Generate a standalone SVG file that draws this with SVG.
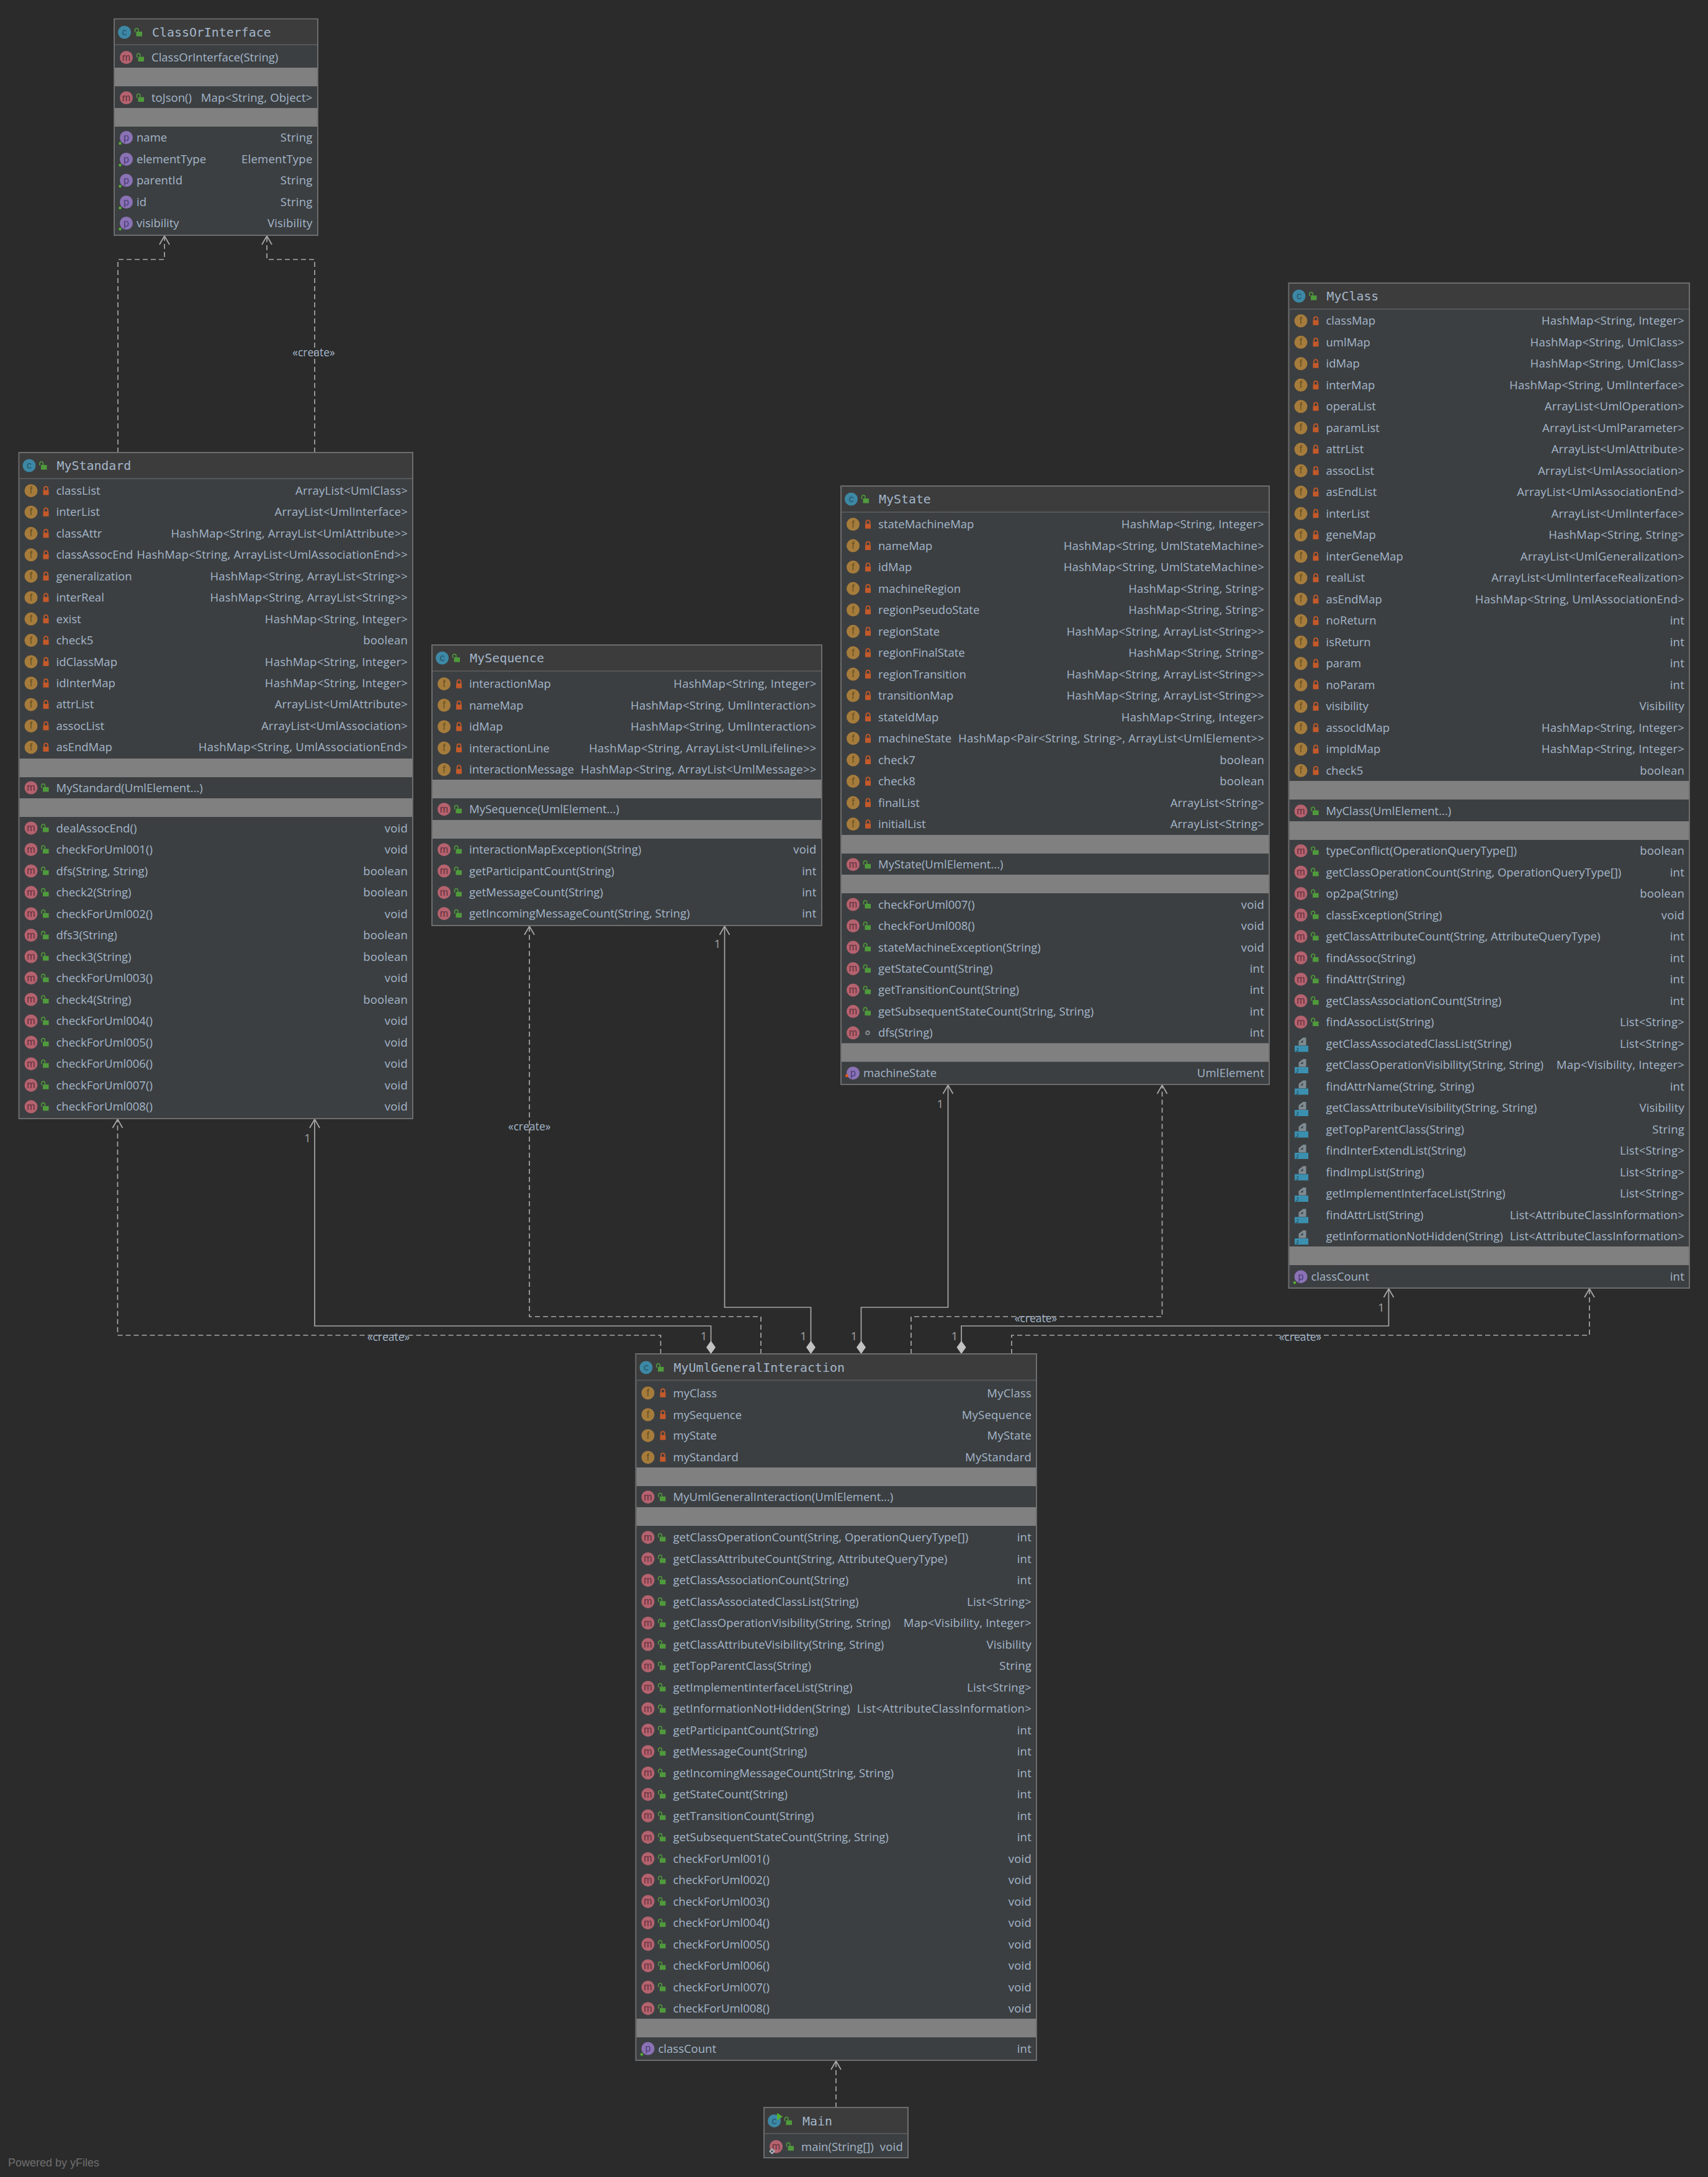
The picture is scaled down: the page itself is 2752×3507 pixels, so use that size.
<svg xmlns="http://www.w3.org/2000/svg" width="2752" height="3507" viewBox="0 0 2752 3507">
<style>
text{font-family:"Open Sans","Noto Sans","Liberation Sans",sans-serif;font-size:18.5px;fill:#a4b6ca}
.t{text-anchor:end;letter-spacing:.22px}
.h{font-family:"DejaVu Sans Mono","Liberation Mono",monospace;font-size:19.9px}
.i{font-family:"Liberation Sans",sans-serif;text-anchor:middle;font-size:16px}
.l{font-size:17.5px;text-anchor:middle}
.o{font-size:19px;fill:#a0a0a0;text-anchor:middle}
.b{fill:#3c3f41;stroke:#6d6d6d;stroke-width:2}
.hd{fill:#3c3c3c}
.hl{stroke:#555759;stroke-width:2}
.g{fill:#808080}
.s{fill:none;stroke:#a8a8a8;stroke-width:1.700}
.d{stroke-dasharray:8 5}
.y{font-size:18px;fill:#6f6f6f;font-family:"Liberation Sans",sans-serif}
</style>
<defs>
<marker id="arr" markerUnits="userSpaceOnUse" markerWidth="18" markerHeight="20" refX="15" refY="10" orient="auto"><path d="M1 2L15 10L1 18" fill="none" stroke="#a8a8a8" stroke-width="1.800"/></marker>
<marker id="dia" markerUnits="userSpaceOnUse" markerWidth="24" markerHeight="18" refX="0" refY="9" orient="auto"><path d="M0 9L10.500 1.500L21 9L10.500 16.500Z" fill="#c2c2c2"/></marker>
<g id="pub"><path d="M36.500 0V-3.500a2.700 2.700 0 0 1 5.400 0V-1" fill="none" stroke="#4f9a3c" stroke-width="1.600"/><rect x="38.500" y="-1" width="9.500" height="7.500" fill="#4f9a3c"/></g>
<g id="pri"><path d="M40.500 -1V-3.500a3 3 0 0 1 6 0V-1" fill="none" stroke="#c4592a" stroke-width="1.800"/><rect x="39" y="-1" width="9" height="8" fill="#c4592a"/></g>
<g id="cc"><circle cx="16.500" cy="0" r="10.500" fill="#3d88a5"/><text class="i" x="16.500" y="5" style="fill:#24566b">c</text><use href="#pub" x="-3"/></g>
<g id="mi"><circle cx="19.500" cy="0" r="10.500" fill="#b5626f"/><text class="i" x="19.500" y="5" style="fill:#60303a">m</text></g>
<g id="fi"><circle cx="19.500" cy="0" r="10.500" fill="#a67c3c"/><text class="i" x="19.500" y="5" style="fill:#67501f">f</text></g>
<g id="pi"><circle cx="19.500" cy="0" r="10.500" fill="#8a72b5"/><text class="i" x="19.500" y="5" style="fill:#4b3c78">p</text></g>
<g id="fr"><use href="#fi"/><use href="#pri"/></g>
<g id="mp"><use href="#mi"/><use href="#pub"/></g>
<g id="pg"><use href="#pi"/><circle cx="9.500" cy="9.500" r="2.200" fill="#55b030"/></g>
<g id="mj"><path d="M16 3V-4L23 -9.500H28V3Z" fill="#7f8b93"/><path d="M18.500 -1.500L23 -5.500V-1.500Z" fill="#3c3f41"/><rect x="9.500" y="3.500" width="22" height="10" fill="#3b90b0"/><text class="i" x="13.500" y="12.500" style="font-size:9px;fill:#1d3f4e">J</text></g>
</defs>
<rect width="2752" height="3507" fill="#2b2b2b"/>
<g id="connectors">
<path class="s d" marker-end="url(#arr)" d="M190 729V418H265V380"/>
<path class="s d" marker-end="url(#arr)" d="M507 729V418H430V380"/>
<text class="l" x="505.500" y="574">«create»</text>
<path class="s d" marker-end="url(#arr)" d="M1064.500 2181V2151H189.500V1803"/>
<text class="l" x="626" y="2160">«create»</text>
<path class="s" marker-start="url(#dia)" marker-end="url(#arr)" d="M1145.500 2181V2136H507V1803"/>
<text class="o" x="495.500" y="1840">1</text>
<text class="o" x="1134" y="2159">1</text>
<path class="s d" marker-end="url(#arr)" d="M1226 2181V2121H853V1492"/>
<text class="l" x="853" y="1821">«create»</text>
<path class="s" marker-start="url(#dia)" marker-end="url(#arr)" d="M1306.500 2181V2106H1167.500V1492"/>
<text class="o" x="1156" y="1527">1</text>
<text class="o" x="1294.500" y="2159">1</text>
<path class="s" marker-start="url(#dia)" marker-end="url(#arr)" d="M1387.500 2181V2106H1527.500V1748"/>
<text class="o" x="1515" y="1785">1</text>
<text class="o" x="1376" y="2159">1</text>
<path class="s d" marker-end="url(#arr)" d="M1468 2181V2121H1872.500V1748"/>
<text class="l" x="1669" y="2130">«create»</text>
<path class="s" marker-start="url(#dia)" marker-end="url(#arr)" d="M1549 2181V2136H2237.500V2076"/>
<text class="o" x="2225.500" y="2113">1</text>
<text class="o" x="1538" y="2159">1</text>
<path class="s d" marker-end="url(#arr)" d="M1630 2181V2151H2561V2076"/>
<text class="l" x="2095" y="2160">«create»</text>
<path class="s d" marker-end="url(#arr)" d="M1347 3395V3320"/>
</g>
<g id="ClassOrInterface" transform="translate(184,0)">
<rect class="b" x="0" y="30.500" width="328" height="348.500"/><rect class="hd" x="1" y="31.500" width="326" height="40"/><path class="hl" d="M1 72H327"/>
<rect class="g" x="1" y="109" width="326" height="30"/><rect class="g" x="1" y="174" width="326" height="30"/>
<g transform="translate(0,52)"><use href="#cc"/><text class="h" x="61" y="7">ClassOrInterface</text></g>
<g transform="translate(0,92.500)"><use href="#mp"/><text class="n" x="60" y="6.500">ClassOrInterface(String)</text></g>
<g transform="translate(0,157.500)"><use href="#mp"/><text class="n" x="60" y="6.500">toJson()</text><text class="t" x="319.500" y="6.500">Map&lt;String, Object&gt;</text></g>
<g transform="translate(0,221.500)"><use href="#pg"/><text class="n" x="36" y="6.500">name</text><text class="t" x="319.500" y="6.500">String</text></g>
<g transform="translate(0,256.500)"><use href="#pg"/><text class="n" x="36" y="6.500">elementType</text><text class="t" x="319.500" y="6.500">ElementType</text></g>
<g transform="translate(0,290.500)"><use href="#pg"/><text class="n" x="36" y="6.500">parentId</text><text class="t" x="319.500" y="6.500">String</text></g>
<g transform="translate(0,325.500)"><use href="#pg"/><text class="n" x="36" y="6.500">id</text><text class="t" x="319.500" y="6.500">String</text></g>
<g transform="translate(0,359.500)"><use href="#pg"/><text class="n" x="36" y="6.500">visibility</text><text class="t" x="319.500" y="6.500">Visibility</text></g>
</g>
<g id="MyStandard" transform="translate(30.500,0)">
<rect class="b" x="0" y="729" width="634.500" height="1073"/><rect class="hd" x="1" y="730" width="632.500" height="40"/><path class="hl" d="M1 771H633.500"/>
<rect class="g" x="1" y="1222" width="632.500" height="30"/><rect class="g" x="1" y="1286" width="632.500" height="30"/>
<g transform="translate(0,750)"><use href="#cc"/><text class="h" x="61" y="7">MyStandard</text></g>
<g transform="translate(0,790.400)"><use href="#fr"/><text class="n" x="60" y="6.500">classList</text><text class="t" x="626.500" y="6.500">ArrayList&lt;UmlClass&gt;</text></g>
<g transform="translate(0,824.900)"><use href="#fr"/><text class="n" x="60" y="6.500">interList</text><text class="t" x="626.500" y="6.500">ArrayList&lt;UmlInterface&gt;</text></g>
<g transform="translate(0,859.300)"><use href="#fr"/><text class="n" x="60" y="6.500">classAttr</text><text class="t" x="626.500" y="6.500">HashMap&lt;String, ArrayList&lt;UmlAttribute&gt;&gt;</text></g>
<g transform="translate(0,893.800)"><use href="#fr"/><text class="n" x="60" y="6.500">classAssocEnd</text><text class="t" x="626.500" y="6.500">HashMap&lt;String, ArrayList&lt;UmlAssociationEnd&gt;&gt;</text></g>
<g transform="translate(0,928.200)"><use href="#fr"/><text class="n" x="60" y="6.500">generalization</text><text class="t" x="626.500" y="6.500">HashMap&lt;String, ArrayList&lt;String&gt;&gt;</text></g>
<g transform="translate(0,962.700)"><use href="#fr"/><text class="n" x="60" y="6.500">interReal</text><text class="t" x="626.500" y="6.500">HashMap&lt;String, ArrayList&lt;String&gt;&gt;</text></g>
<g transform="translate(0,997.100)"><use href="#fr"/><text class="n" x="60" y="6.500">exist</text><text class="t" x="626.500" y="6.500">HashMap&lt;String, Integer&gt;</text></g>
<g transform="translate(0,1031.600)"><use href="#fr"/><text class="n" x="60" y="6.500">check5</text><text class="t" x="626.500" y="6.500">boolean</text></g>
<g transform="translate(0,1066)"><use href="#fr"/><text class="n" x="60" y="6.500">idClassMap</text><text class="t" x="626.500" y="6.500">HashMap&lt;String, Integer&gt;</text></g>
<g transform="translate(0,1100.500)"><use href="#fr"/><text class="n" x="60" y="6.500">idInterMap</text><text class="t" x="626.500" y="6.500">HashMap&lt;String, Integer&gt;</text></g>
<g transform="translate(0,1134.900)"><use href="#fr"/><text class="n" x="60" y="6.500">attrList</text><text class="t" x="626.500" y="6.500">ArrayList&lt;UmlAttribute&gt;</text></g>
<g transform="translate(0,1169.400)"><use href="#fr"/><text class="n" x="60" y="6.500">assocList</text><text class="t" x="626.500" y="6.500">ArrayList&lt;UmlAssociation&gt;</text></g>
<g transform="translate(0,1203.800)"><use href="#fr"/><text class="n" x="60" y="6.500">asEndMap</text><text class="t" x="626.500" y="6.500">HashMap&lt;String, UmlAssociationEnd&gt;</text></g>
<g transform="translate(0,1269)"><use href="#mp"/><text class="n" x="60" y="6.500">MyStandard(UmlElement...)</text></g>
<g transform="translate(0,1334)"><use href="#mp"/><text class="n" x="60" y="6.500">dealAssocEnd()</text><text class="t" x="626.500" y="6.500">void</text></g>
<g transform="translate(0,1368.500)"><use href="#mp"/><text class="n" x="60" y="6.500">checkForUml001()</text><text class="t" x="626.500" y="6.500">void</text></g>
<g transform="translate(0,1403)"><use href="#mp"/><text class="n" x="60" y="6.500">dfs(String, String)</text><text class="t" x="626.500" y="6.500">boolean</text></g>
<g transform="translate(0,1437.600)"><use href="#mp"/><text class="n" x="60" y="6.500">check2(String)</text><text class="t" x="626.500" y="6.500">boolean</text></g>
<g transform="translate(0,1472)"><use href="#mp"/><text class="n" x="60" y="6.500">checkForUml002()</text><text class="t" x="626.500" y="6.500">void</text></g>
<g transform="translate(0,1506.600)"><use href="#mp"/><text class="n" x="60" y="6.500">dfs3(String)</text><text class="t" x="626.500" y="6.500">boolean</text></g>
<g transform="translate(0,1541)"><use href="#mp"/><text class="n" x="60" y="6.500">check3(String)</text><text class="t" x="626.500" y="6.500">boolean</text></g>
<g transform="translate(0,1575.600)"><use href="#mp"/><text class="n" x="60" y="6.500">checkForUml003()</text><text class="t" x="626.500" y="6.500">void</text></g>
<g transform="translate(0,1610)"><use href="#mp"/><text class="n" x="60" y="6.500">check4(String)</text><text class="t" x="626.500" y="6.500">boolean</text></g>
<g transform="translate(0,1644.700)"><use href="#mp"/><text class="n" x="60" y="6.500">checkForUml004()</text><text class="t" x="626.500" y="6.500">void</text></g>
<g transform="translate(0,1679)"><use href="#mp"/><text class="n" x="60" y="6.500">checkForUml005()</text><text class="t" x="626.500" y="6.500">void</text></g>
<g transform="translate(0,1713.700)"><use href="#mp"/><text class="n" x="60" y="6.500">checkForUml006()</text><text class="t" x="626.500" y="6.500">void</text></g>
<g transform="translate(0,1748.200)"><use href="#mp"/><text class="n" x="60" y="6.500">checkForUml007()</text><text class="t" x="626.500" y="6.500">void</text></g>
<g transform="translate(0,1782.800)"><use href="#mp"/><text class="n" x="60" y="6.500">checkForUml008()</text><text class="t" x="626.500" y="6.500">void</text></g>
</g>
<g id="MySequence" transform="translate(696,0)">
<rect class="b" x="0" y="1039" width="628" height="452"/><rect class="hd" x="1" y="1040" width="626" height="40"/><path class="hl" d="M1 1081H627"/>
<rect class="g" x="1" y="1256" width="626" height="30"/><rect class="g" x="1" y="1321" width="626" height="30"/>
<g transform="translate(0,1060)"><use href="#cc"/><text class="h" x="61" y="7">MySequence</text></g>
<g transform="translate(0,1101.700)"><use href="#fr"/><text class="n" x="60" y="6.500">interactionMap</text><text class="t" x="619.500" y="6.500">HashMap&lt;String, Integer&gt;</text></g>
<g transform="translate(0,1136)"><use href="#fr"/><text class="n" x="60" y="6.500">nameMap</text><text class="t" x="619.500" y="6.500">HashMap&lt;String, UmlInteraction&gt;</text></g>
<g transform="translate(0,1170.700)"><use href="#fr"/><text class="n" x="60" y="6.500">idMap</text><text class="t" x="619.500" y="6.500">HashMap&lt;String, UmlInteraction&gt;</text></g>
<g transform="translate(0,1205)"><use href="#fr"/><text class="n" x="60" y="6.500">interactionLine</text><text class="t" x="619.500" y="6.500">HashMap&lt;String, ArrayList&lt;UmlLifeline&gt;&gt;</text></g>
<g transform="translate(0,1239.700)"><use href="#fr"/><text class="n" x="60" y="6.500">interactionMessage</text><text class="t" x="619.500" y="6.500">HashMap&lt;String, ArrayList&lt;UmlMessage&gt;&gt;</text></g>
<g transform="translate(0,1303.700)"><use href="#mp"/><text class="n" x="60" y="6.500">MySequence(UmlElement...)</text></g>
<g transform="translate(0,1368.700)"><use href="#mp"/><text class="n" x="60" y="6.500">interactionMapException(String)</text><text class="t" x="619.500" y="6.500">void</text></g>
<g transform="translate(0,1403)"><use href="#mp"/><text class="n" x="60" y="6.500">getParticipantCount(String)</text><text class="t" x="619.500" y="6.500">int</text></g>
<g transform="translate(0,1437.700)"><use href="#mp"/><text class="n" x="60" y="6.500">getMessageCount(String)</text><text class="t" x="619.500" y="6.500">int</text></g>
<g transform="translate(0,1471.700)"><use href="#mp"/><text class="n" x="60" y="6.500">getIncomingMessageCount(String, String)</text><text class="t" x="619.500" y="6.500">int</text></g>
</g>
<g id="MyState" transform="translate(1355,0)">
<rect class="b" x="0" y="783" width="690" height="964"/><rect class="hd" x="1" y="784" width="688" height="40"/><path class="hl" d="M1 825H689"/>
<rect class="g" x="1" y="1345" width="688" height="30"/><rect class="g" x="1" y="1409" width="688" height="30"/><rect class="g" x="1" y="1680.500" width="688" height="30"/>
<g transform="translate(0,804)"><use href="#cc"/><text class="h" x="61" y="7">MyState</text></g>
<g transform="translate(0,844.600)"><use href="#fr"/><text class="n" x="60" y="6.500">stateMachineMap</text><text class="t" x="682" y="6.500">HashMap&lt;String, Integer&gt;</text></g>
<g transform="translate(0,879.100)"><use href="#fr"/><text class="n" x="60" y="6.500">nameMap</text><text class="t" x="682" y="6.500">HashMap&lt;String, UmlStateMachine&gt;</text></g>
<g transform="translate(0,913.600)"><use href="#fr"/><text class="n" x="60" y="6.500">idMap</text><text class="t" x="682" y="6.500">HashMap&lt;String, UmlStateMachine&gt;</text></g>
<g transform="translate(0,948.100)"><use href="#fr"/><text class="n" x="60" y="6.500">machineRegion</text><text class="t" x="682" y="6.500">HashMap&lt;String, String&gt;</text></g>
<g transform="translate(0,982.600)"><use href="#fr"/><text class="n" x="60" y="6.500">regionPseudoState</text><text class="t" x="682" y="6.500">HashMap&lt;String, String&gt;</text></g>
<g transform="translate(0,1017.100)"><use href="#fr"/><text class="n" x="60" y="6.500">regionState</text><text class="t" x="682" y="6.500">HashMap&lt;String, ArrayList&lt;String&gt;&gt;</text></g>
<g transform="translate(0,1051.600)"><use href="#fr"/><text class="n" x="60" y="6.500">regionFinalState</text><text class="t" x="682" y="6.500">HashMap&lt;String, String&gt;</text></g>
<g transform="translate(0,1086.100)"><use href="#fr"/><text class="n" x="60" y="6.500">regionTransition</text><text class="t" x="682" y="6.500">HashMap&lt;String, ArrayList&lt;String&gt;&gt;</text></g>
<g transform="translate(0,1120.600)"><use href="#fr"/><text class="n" x="60" y="6.500">transitionMap</text><text class="t" x="682" y="6.500">HashMap&lt;String, ArrayList&lt;String&gt;&gt;</text></g>
<g transform="translate(0,1155.100)"><use href="#fr"/><text class="n" x="60" y="6.500">stateIdMap</text><text class="t" x="682" y="6.500">HashMap&lt;String, Integer&gt;</text></g>
<g transform="translate(0,1189.600)"><use href="#fr"/><text class="n" x="60" y="6.500">machineState</text><text class="t" x="682" y="6.500">HashMap&lt;Pair&lt;String, String&gt;, ArrayList&lt;UmlElement&gt;&gt;</text></g>
<g transform="translate(0,1224.100)"><use href="#fr"/><text class="n" x="60" y="6.500">check7</text><text class="t" x="682" y="6.500">boolean</text></g>
<g transform="translate(0,1258.600)"><use href="#fr"/><text class="n" x="60" y="6.500">check8</text><text class="t" x="682" y="6.500">boolean</text></g>
<g transform="translate(0,1293.100)"><use href="#fr"/><text class="n" x="60" y="6.500">finalList</text><text class="t" x="682" y="6.500">ArrayList&lt;String&gt;</text></g>
<g transform="translate(0,1327.600)"><use href="#fr"/><text class="n" x="60" y="6.500">initialList</text><text class="t" x="682" y="6.500">ArrayList&lt;String&gt;</text></g>
<g transform="translate(0,1392.700)"><use href="#mp"/><text class="n" x="60" y="6.500">MyState(UmlElement...)</text></g>
<g transform="translate(0,1457)"><use href="#mp"/><text class="n" x="60" y="6.500">checkForUml007()</text><text class="t" x="682" y="6.500">void</text></g>
<g transform="translate(0,1491.500)"><use href="#mp"/><text class="n" x="60" y="6.500">checkForUml008()</text><text class="t" x="682" y="6.500">void</text></g>
<g transform="translate(0,1526)"><use href="#mp"/><text class="n" x="60" y="6.500">stateMachineException(String)</text><text class="t" x="682" y="6.500">void</text></g>
<g transform="translate(0,1560.400)"><use href="#mp"/><text class="n" x="60" y="6.500">getStateCount(String)</text><text class="t" x="682" y="6.500">int</text></g>
<g transform="translate(0,1594.900)"><use href="#mp"/><text class="n" x="60" y="6.500">getTransitionCount(String)</text><text class="t" x="682" y="6.500">int</text></g>
<g transform="translate(0,1629.300)"><use href="#mp"/><text class="n" x="60" y="6.500">getSubsequentStateCount(String, String)</text><text class="t" x="682" y="6.500">int</text></g>
<g transform="translate(0,1663.800)"><use href="#mi"/><circle cx="43" cy="0" r="2.800" fill="none" stroke="#8a9096" stroke-width="1.800"/><text class="n" x="60" y="6.500">dfs(String)</text><text class="t" x="682" y="6.500">int</text></g>
<g transform="translate(0,1728.700)"><use href="#pi"/><circle cx="9.500" cy="4" r="2.500" fill="#e0591c"/><text class="n" x="36" y="6.500">machineState</text><text class="t" x="682" y="6.500">UmlElement</text></g>
</g>
<g id="MyClass" transform="translate(2076.500,0)">
<rect class="b" x="0" y="456" width="645.500" height="1619"/><rect class="hd" x="1" y="457" width="643.500" height="40"/><path class="hl" d="M1 498H644.500"/>
<rect class="g" x="1" y="1258" width="643.500" height="30"/><rect class="g" x="1" y="1323" width="643.500" height="30"/><rect class="g" x="1" y="2008" width="643.500" height="30"/>
<g transform="translate(0,477)"><use href="#cc"/><text class="h" x="61" y="7">MyClass</text></g>
<g transform="translate(0,516.800)"><use href="#fr"/><text class="n" x="60" y="6.500">classMap</text><text class="t" x="637.500" y="6.500">HashMap&lt;String, Integer&gt;</text></g>
<g transform="translate(0,551.300)"><use href="#fr"/><text class="n" x="60" y="6.500">umlMap</text><text class="t" x="637.500" y="6.500">HashMap&lt;String, UmlClass&gt;</text></g>
<g transform="translate(0,585.800)"><use href="#fr"/><text class="n" x="60" y="6.500">idMap</text><text class="t" x="637.500" y="6.500">HashMap&lt;String, UmlClass&gt;</text></g>
<g transform="translate(0,620.300)"><use href="#fr"/><text class="n" x="60" y="6.500">interMap</text><text class="t" x="637.500" y="6.500">HashMap&lt;String, UmlInterface&gt;</text></g>
<g transform="translate(0,654.800)"><use href="#fr"/><text class="n" x="60" y="6.500">operaList</text><text class="t" x="637.500" y="6.500">ArrayList&lt;UmlOperation&gt;</text></g>
<g transform="translate(0,689.300)"><use href="#fr"/><text class="n" x="60" y="6.500">paramList</text><text class="t" x="637.500" y="6.500">ArrayList&lt;UmlParameter&gt;</text></g>
<g transform="translate(0,723.800)"><use href="#fr"/><text class="n" x="60" y="6.500">attrList</text><text class="t" x="637.500" y="6.500">ArrayList&lt;UmlAttribute&gt;</text></g>
<g transform="translate(0,758.300)"><use href="#fr"/><text class="n" x="60" y="6.500">assocList</text><text class="t" x="637.500" y="6.500">ArrayList&lt;UmlAssociation&gt;</text></g>
<g transform="translate(0,792.800)"><use href="#fr"/><text class="n" x="60" y="6.500">asEndList</text><text class="t" x="637.500" y="6.500">ArrayList&lt;UmlAssociationEnd&gt;</text></g>
<g transform="translate(0,827.300)"><use href="#fr"/><text class="n" x="60" y="6.500">interList</text><text class="t" x="637.500" y="6.500">ArrayList&lt;UmlInterface&gt;</text></g>
<g transform="translate(0,861.800)"><use href="#fr"/><text class="n" x="60" y="6.500">geneMap</text><text class="t" x="637.500" y="6.500">HashMap&lt;String, String&gt;</text></g>
<g transform="translate(0,896.300)"><use href="#fr"/><text class="n" x="60" y="6.500">interGeneMap</text><text class="t" x="637.500" y="6.500">ArrayList&lt;UmlGeneralization&gt;</text></g>
<g transform="translate(0,930.800)"><use href="#fr"/><text class="n" x="60" y="6.500">realList</text><text class="t" x="637.500" y="6.500">ArrayList&lt;UmlInterfaceRealization&gt;</text></g>
<g transform="translate(0,965.300)"><use href="#fr"/><text class="n" x="60" y="6.500">asEndMap</text><text class="t" x="637.500" y="6.500">HashMap&lt;String, UmlAssociationEnd&gt;</text></g>
<g transform="translate(0,999.800)"><use href="#fr"/><text class="n" x="60" y="6.500">noReturn</text><text class="t" x="637.500" y="6.500">int</text></g>
<g transform="translate(0,1034.300)"><use href="#fr"/><text class="n" x="60" y="6.500">isReturn</text><text class="t" x="637.500" y="6.500">int</text></g>
<g transform="translate(0,1068.800)"><use href="#fr"/><text class="n" x="60" y="6.500">param</text><text class="t" x="637.500" y="6.500">int</text></g>
<g transform="translate(0,1103.300)"><use href="#fr"/><text class="n" x="60" y="6.500">noParam</text><text class="t" x="637.500" y="6.500">int</text></g>
<g transform="translate(0,1137.800)"><use href="#fr"/><text class="n" x="60" y="6.500">visibility</text><text class="t" x="637.500" y="6.500">Visibility</text></g>
<g transform="translate(0,1172.300)"><use href="#fr"/><text class="n" x="60" y="6.500">assocIdMap</text><text class="t" x="637.500" y="6.500">HashMap&lt;String, Integer&gt;</text></g>
<g transform="translate(0,1206.800)"><use href="#fr"/><text class="n" x="60" y="6.500">impIdMap</text><text class="t" x="637.500" y="6.500">HashMap&lt;String, Integer&gt;</text></g>
<g transform="translate(0,1241.300)"><use href="#fr"/><text class="n" x="60" y="6.500">check5</text><text class="t" x="637.500" y="6.500">boolean</text></g>
<g transform="translate(0,1306.500)"><use href="#mp"/><text class="n" x="60" y="6.500">MyClass(UmlElement...)</text></g>
<g transform="translate(0,1370.500)"><use href="#mp"/><text class="n" x="60" y="6.500">typeConflict(OperationQueryType[])</text><text class="t" x="637.500" y="6.500">boolean</text></g>
<g transform="translate(0,1405)"><use href="#mp"/><text class="n" x="60" y="6.500">getClassOperationCount(String, OperationQueryType[])</text><text class="t" x="637.500" y="6.500">int</text></g>
<g transform="translate(0,1439.500)"><use href="#mp"/><text class="n" x="60" y="6.500">op2pa(String)</text><text class="t" x="637.500" y="6.500">boolean</text></g>
<g transform="translate(0,1474)"><use href="#mp"/><text class="n" x="60" y="6.500">classException(String)</text><text class="t" x="637.500" y="6.500">void</text></g>
<g transform="translate(0,1508.500)"><use href="#mp"/><text class="n" x="60" y="6.500">getClassAttributeCount(String, AttributeQueryType)</text><text class="t" x="637.500" y="6.500">int</text></g>
<g transform="translate(0,1543)"><use href="#mp"/><text class="n" x="60" y="6.500">findAssoc(String)</text><text class="t" x="637.500" y="6.500">int</text></g>
<g transform="translate(0,1577.500)"><use href="#mp"/><text class="n" x="60" y="6.500">findAttr(String)</text><text class="t" x="637.500" y="6.500">int</text></g>
<g transform="translate(0,1612)"><use href="#mp"/><text class="n" x="60" y="6.500">getClassAssociationCount(String)</text><text class="t" x="637.500" y="6.500">int</text></g>
<g transform="translate(0,1646.500)"><use href="#mp"/><text class="n" x="60" y="6.500">findAssocList(String)</text><text class="t" x="637.500" y="6.500">List&lt;String&gt;</text></g>
<g transform="translate(0,1681)"><use href="#mj"/><text class="n" x="60" y="6.500">getClassAssociatedClassList(String)</text><text class="t" x="637.500" y="6.500">List&lt;String&gt;</text></g>
<g transform="translate(0,1715.500)"><use href="#mj"/><text class="n" x="60" y="6.500">getClassOperationVisibility(String, String)</text><text class="t" x="637.500" y="6.500">Map&lt;Visibility, Integer&gt;</text></g>
<g transform="translate(0,1750)"><use href="#mj"/><text class="n" x="60" y="6.500">findAttrName(String, String)</text><text class="t" x="637.500" y="6.500">int</text></g>
<g transform="translate(0,1784.500)"><use href="#mj"/><text class="n" x="60" y="6.500">getClassAttributeVisibility(String, String)</text><text class="t" x="637.500" y="6.500">Visibility</text></g>
<g transform="translate(0,1819)"><use href="#mj"/><text class="n" x="60" y="6.500">getTopParentClass(String)</text><text class="t" x="637.500" y="6.500">String</text></g>
<g transform="translate(0,1853.500)"><use href="#mj"/><text class="n" x="60" y="6.500">findInterExtendList(String)</text><text class="t" x="637.500" y="6.500">List&lt;String&gt;</text></g>
<g transform="translate(0,1888)"><use href="#mj"/><text class="n" x="60" y="6.500">findImpList(String)</text><text class="t" x="637.500" y="6.500">List&lt;String&gt;</text></g>
<g transform="translate(0,1922.500)"><use href="#mj"/><text class="n" x="60" y="6.500">getImplementInterfaceList(String)</text><text class="t" x="637.500" y="6.500">List&lt;String&gt;</text></g>
<g transform="translate(0,1957)"><use href="#mj"/><text class="n" x="60" y="6.500">findAttrList(String)</text><text class="t" x="637.500" y="6.500">List&lt;AttributeClassInformation&gt;</text></g>
<g transform="translate(0,1991.500)"><use href="#mj"/><text class="n" x="60" y="6.500">getInformationNotHidden(String)</text><text class="t" x="637.500" y="6.500">List&lt;AttributeClassInformation&gt;</text></g>
<g transform="translate(0,2056.700)"><use href="#pg"/><text class="n" x="36" y="6.500">classCount</text><text class="t" x="637.500" y="6.500">int</text></g>
</g>
<g id="MyUmlGeneralInteraction" transform="translate(1024.500,0)">
<rect class="b" x="0" y="2181" width="645.500" height="1138"/><rect class="hd" x="1" y="2182" width="643.500" height="41"/><path class="hl" d="M1 2223.500H644.500"/>
<rect class="g" x="1" y="2364" width="643.500" height="30"/><rect class="g" x="1" y="2428" width="643.500" height="30"/><rect class="g" x="1" y="3252" width="643.500" height="30"/>
<g transform="translate(0,2203)"><use href="#cc"/><text class="h" x="61" y="7">MyUmlGeneralInteraction</text></g>
<g transform="translate(0,2244)"><use href="#fr"/><text class="n" x="60" y="6.500">myClass</text><text class="t" x="637.500" y="6.500">MyClass</text></g>
<g transform="translate(0,2279)"><use href="#fr"/><text class="n" x="60" y="6.500">mySequence</text><text class="t" x="637.500" y="6.500">MySequence</text></g>
<g transform="translate(0,2312.700)"><use href="#fr"/><text class="n" x="60" y="6.500">myState</text><text class="t" x="637.500" y="6.500">MyState</text></g>
<g transform="translate(0,2347.700)"><use href="#fr"/><text class="n" x="60" y="6.500">myStandard</text><text class="t" x="637.500" y="6.500">MyStandard</text></g>
<g transform="translate(0,2411.700)"><use href="#mp"/><text class="n" x="60" y="6.500">MyUmlGeneralInteraction(UmlElement...)</text></g>
<g transform="translate(0,2476.700)"><use href="#mp"/><text class="n" x="60" y="6.500">getClassOperationCount(String, OperationQueryType[])</text><text class="t" x="637.500" y="6.500">int</text></g>
<g transform="translate(0,2511.200)"><use href="#mp"/><text class="n" x="60" y="6.500">getClassAttributeCount(String, AttributeQueryType)</text><text class="t" x="637.500" y="6.500">int</text></g>
<g transform="translate(0,2545.700)"><use href="#mp"/><text class="n" x="60" y="6.500">getClassAssociationCount(String)</text><text class="t" x="637.500" y="6.500">int</text></g>
<g transform="translate(0,2580.200)"><use href="#mp"/><text class="n" x="60" y="6.500">getClassAssociatedClassList(String)</text><text class="t" x="637.500" y="6.500">List&lt;String&gt;</text></g>
<g transform="translate(0,2614.700)"><use href="#mp"/><text class="n" x="60" y="6.500">getClassOperationVisibility(String, String)</text><text class="t" x="637.500" y="6.500">Map&lt;Visibility, Integer&gt;</text></g>
<g transform="translate(0,2649.200)"><use href="#mp"/><text class="n" x="60" y="6.500">getClassAttributeVisibility(String, String)</text><text class="t" x="637.500" y="6.500">Visibility</text></g>
<g transform="translate(0,2683.700)"><use href="#mp"/><text class="n" x="60" y="6.500">getTopParentClass(String)</text><text class="t" x="637.500" y="6.500">String</text></g>
<g transform="translate(0,2718.200)"><use href="#mp"/><text class="n" x="60" y="6.500">getImplementInterfaceList(String)</text><text class="t" x="637.500" y="6.500">List&lt;String&gt;</text></g>
<g transform="translate(0,2752.700)"><use href="#mp"/><text class="n" x="60" y="6.500">getInformationNotHidden(String)</text><text class="t" x="637.500" y="6.500">List&lt;AttributeClassInformation&gt;</text></g>
<g transform="translate(0,2787.200)"><use href="#mp"/><text class="n" x="60" y="6.500">getParticipantCount(String)</text><text class="t" x="637.500" y="6.500">int</text></g>
<g transform="translate(0,2821.700)"><use href="#mp"/><text class="n" x="60" y="6.500">getMessageCount(String)</text><text class="t" x="637.500" y="6.500">int</text></g>
<g transform="translate(0,2856.200)"><use href="#mp"/><text class="n" x="60" y="6.500">getIncomingMessageCount(String, String)</text><text class="t" x="637.500" y="6.500">int</text></g>
<g transform="translate(0,2890.700)"><use href="#mp"/><text class="n" x="60" y="6.500">getStateCount(String)</text><text class="t" x="637.500" y="6.500">int</text></g>
<g transform="translate(0,2925.200)"><use href="#mp"/><text class="n" x="60" y="6.500">getTransitionCount(String)</text><text class="t" x="637.500" y="6.500">int</text></g>
<g transform="translate(0,2959.700)"><use href="#mp"/><text class="n" x="60" y="6.500">getSubsequentStateCount(String, String)</text><text class="t" x="637.500" y="6.500">int</text></g>
<g transform="translate(0,2994.200)"><use href="#mp"/><text class="n" x="60" y="6.500">checkForUml001()</text><text class="t" x="637.500" y="6.500">void</text></g>
<g transform="translate(0,3028.700)"><use href="#mp"/><text class="n" x="60" y="6.500">checkForUml002()</text><text class="t" x="637.500" y="6.500">void</text></g>
<g transform="translate(0,3063.200)"><use href="#mp"/><text class="n" x="60" y="6.500">checkForUml003()</text><text class="t" x="637.500" y="6.500">void</text></g>
<g transform="translate(0,3097.700)"><use href="#mp"/><text class="n" x="60" y="6.500">checkForUml004()</text><text class="t" x="637.500" y="6.500">void</text></g>
<g transform="translate(0,3132.200)"><use href="#mp"/><text class="n" x="60" y="6.500">checkForUml005()</text><text class="t" x="637.500" y="6.500">void</text></g>
<g transform="translate(0,3166.700)"><use href="#mp"/><text class="n" x="60" y="6.500">checkForUml006()</text><text class="t" x="637.500" y="6.500">void</text></g>
<g transform="translate(0,3201.200)"><use href="#mp"/><text class="n" x="60" y="6.500">checkForUml007()</text><text class="t" x="637.500" y="6.500">void</text></g>
<g transform="translate(0,3235.700)"><use href="#mp"/><text class="n" x="60" y="6.500">checkForUml008()</text><text class="t" x="637.500" y="6.500">void</text></g>
<g transform="translate(0,3300)"><use href="#pg"/><text class="n" x="36" y="6.500">classCount</text><text class="t" x="637.500" y="6.500">int</text></g>
</g>
<g id="Main" transform="translate(1231,0)">
<rect class="b" x="0" y="3395" width="232" height="81"/><rect class="hd" x="1" y="3396" width="230" height="40"/><path class="hl" d="M1 3437H231"/>
<g transform="translate(0,3416.700)"><use href="#cc"/><path d="M21 -13L30 -7L21 -1Z" fill="#55b030"/><text class="h" x="62" y="7">Main</text></g>
<g transform="translate(0,3458)"><use href="#mp"/><path d="M13 2.500L18 7.500L13 12.500L8 7.500Z" fill="#a8b0b8"/><circle cx="13" cy="7.500" r="1.500" fill="#3c3f41"/><text class="n" x="60" y="6.500">main(String[])</text><text class="t" x="224" y="6.500">void</text></g>
</g>
<text class="y" x="13" y="3490">Powered by yFiles</text>
</svg>
